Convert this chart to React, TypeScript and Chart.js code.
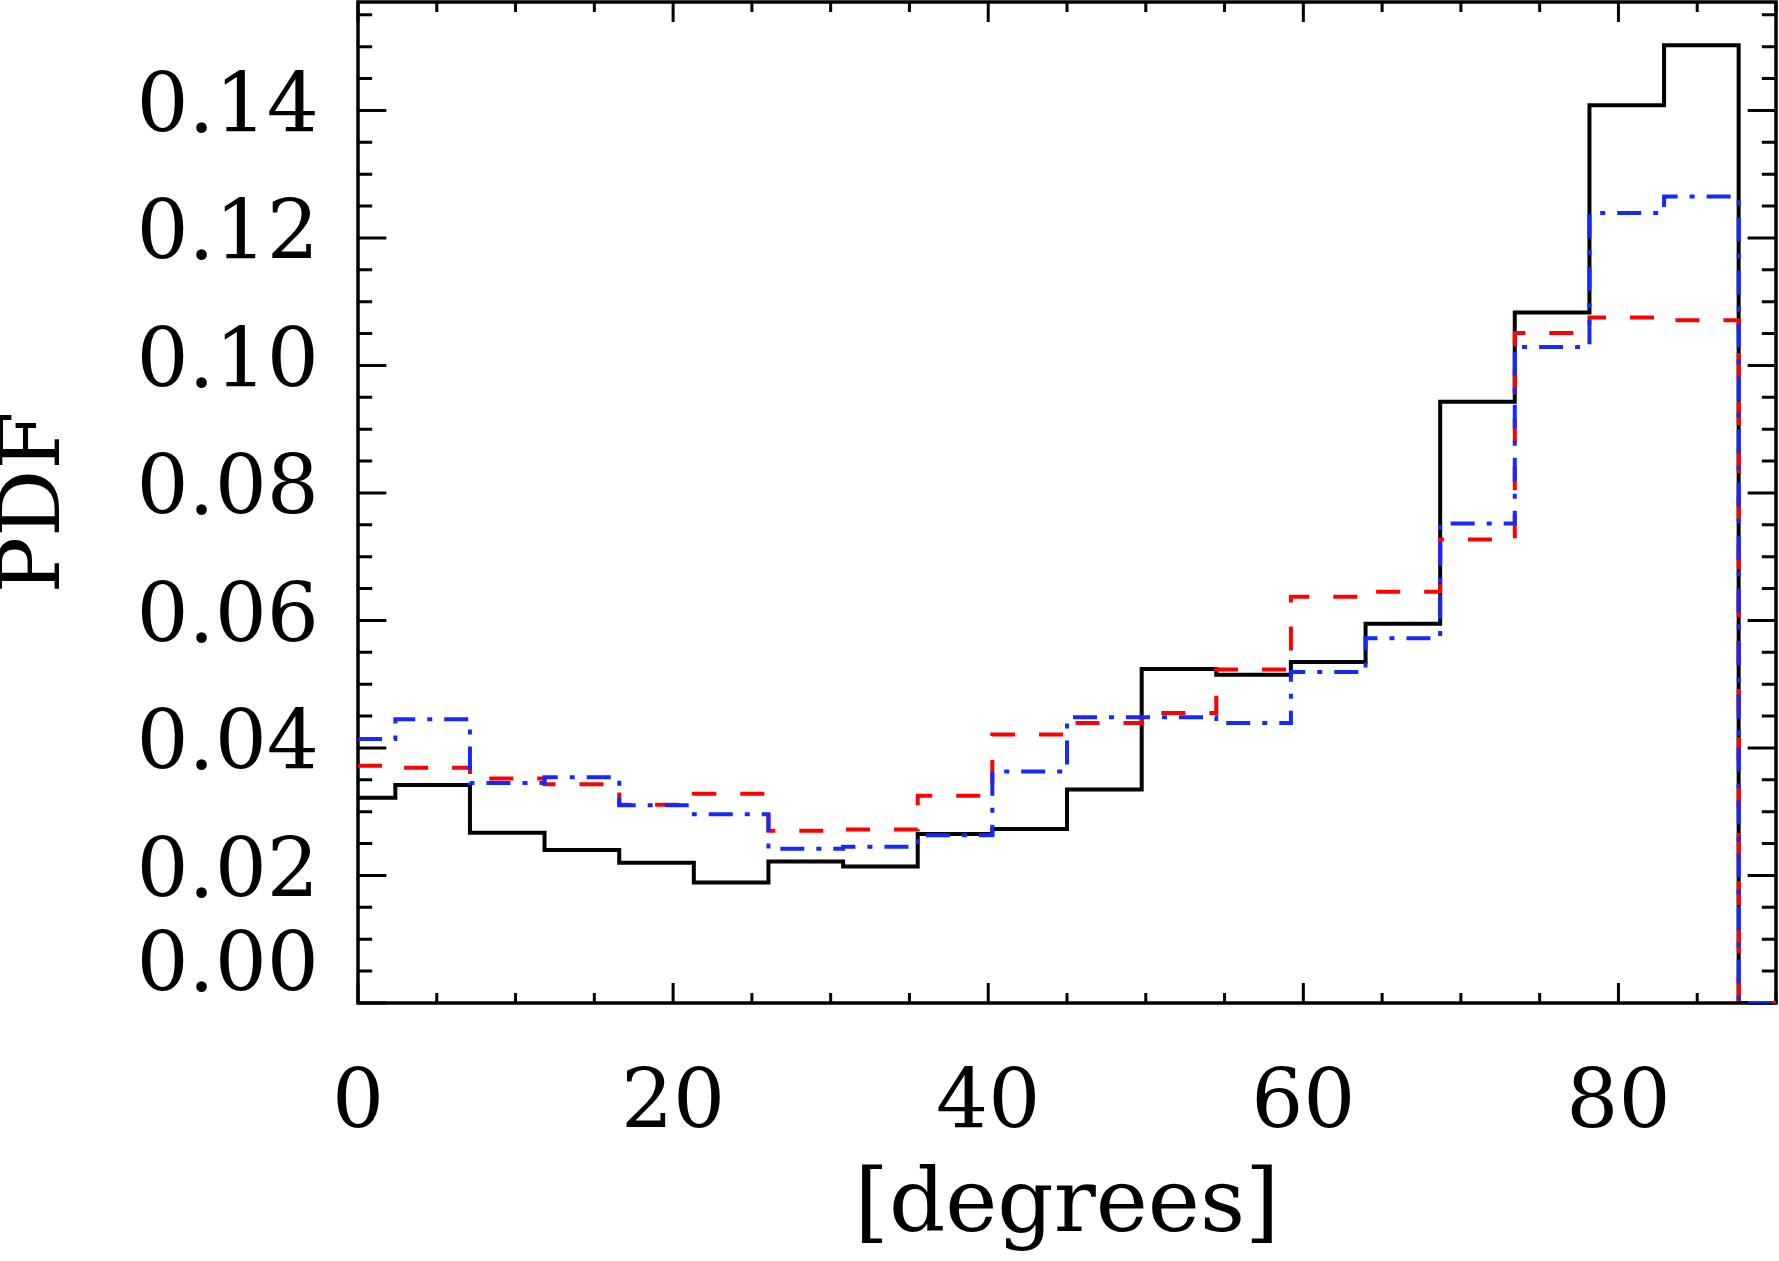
import React, { useEffect, useRef } from "react";
import { Chart, registerables } from "chart.js";

Chart.register(...registerables);

// ── Data ──────────────────────────────────────────────────────
// bin centres, degrees
const binCenters = [
  0, 4.74, 9.47, 14.21, 18.95, 23.68, 28.42, 33.16, 37.89, 42.63,
  47.37, 52.11, 56.84, 61.58, 66.32, 71.05, 75.79, 80.53, 85.26, 90,
];

// solid black
const pdfSolid = [
  0.0322, 0.0342, 0.0267, 0.0240, 0.0220, 0.0189, 0.0222, 0.0214, 0.0265, 0.0273,
  0.0335, 0.0524, 0.0515, 0.0535, 0.0595, 0.0943, 0.1083, 0.1408, 0.1502, 0,
];

// red dashed
const pdfDashed = [
  0.0372, 0.0369, 0.0352, 0.0343, 0.0311, 0.0328, 0.0270, 0.0272, 0.0325, 0.0421,
  0.0439, 0.0455, 0.0523, 0.0637, 0.0645, 0.0727, 0.1051, 0.1075, 0.1071, 0,
];

// blue dash-dot
const pdfDashDot = [
  0.0414, 0.0445, 0.0345, 0.0354, 0.0310, 0.0296, 0.0242, 0.0245, 0.0263, 0.0363,
  0.0448, 0.0448, 0.0439, 0.0519, 0.0572, 0.0752, 0.1029, 0.1239, 0.1265, 0,
];

const xTickValues = [0, 20, 40, 60, 80];
const yTickValues = [0, 0.02, 0.04, 0.06, 0.08, 0.1, 0.12, 0.14];
const xMinorStep = 5;
const yMinorStep = 0.005;
const xRange = [0, 90];
const yRange = [0, 0.157];

const FONT = "'DejaVu Serif', serif";

// ── IDL-style box with inward ticks on all four sides ────────
const framePlugin = {
  id: "frame",
  beforeDatasetsDraw(chart: any) {
    const { ctx, chartArea, scales } = chart;
    const { left, right, top, bottom } = chartArea;
    const xs = scales.x, ys = scales.y;
    const xLen = (bottom - top) * 0.02;
    const yLen = (right - left) * 0.02;

    ctx.save();
    ctx.strokeStyle = "#000";
    ctx.lineCap = "butt";

    ctx.lineWidth = 3;
    ctx.beginPath();
    const nx = Math.round((xRange[1] - xRange[0]) / xMinorStep);
    for (let i = 0; i <= nx; i++) {
      const v = xRange[0] + i * xMinorStep;
      const px = xs.getPixelForValue(v);
      const len = xTickValues.some((t) => Math.abs(t - v) < 1e-9) ? xLen : xLen / 2;
      ctx.moveTo(px, bottom);
      ctx.lineTo(px, bottom - len);
      ctx.moveTo(px, top);
      ctx.lineTo(px, top + len);
    }
    const ny = Math.floor((yRange[1] - yRange[0]) / yMinorStep + 1e-6);
    for (let i = 0; i <= ny; i++) {
      const v = yRange[0] + i * yMinorStep;
      const py = ys.getPixelForValue(v);
      const len = yTickValues.some((t) => Math.abs(t - v) < 1e-9) ? yLen : yLen / 2;
      ctx.moveTo(left, py);
      ctx.lineTo(left + len, py);
      ctx.moveTo(right, py);
      ctx.lineTo(right - len, py);
    }
    ctx.stroke();

    ctx.lineWidth = 3.5;
    ctx.strokeRect(left, top, right - left, bottom - top);
    ctx.restore();
  },
};

const toPoints = (vals: number[]) => binCenters.map((x, i) => ({ x, y: vals[i] }));

export default function App() {
  const canvasRef = useRef<HTMLCanvasElement>(null);

  useEffect(() => {
    if (!canvasRef.current) return;

    const chart = new Chart(canvasRef.current, {
      type: "line",
      data: {
        datasets: [
          {
            label: "solid",
            data: toPoints(pdfSolid),
            borderColor: "#000000",
            borderWidth: 4,
            stepped: "middle",
            pointRadius: 0,
            fill: false,
            order: 2,
          },
          {
            label: "dashed",
            data: toPoints(pdfDashed),
            borderColor: "#ff0000",
            borderWidth: 4,
            borderDash: [24, 24],
            stepped: "middle",
            pointRadius: 0,
            fill: false,
            order: 1,
          },
          {
            label: "dash-dot",
            data: toPoints(pdfDashDot),
            borderColor: "#1428ff",
            borderWidth: 4,
            borderDash: [24, 12, 5, 12],
            stepped: "middle",
            pointRadius: 0,
            fill: false,
            order: 0,
          },
        ],
      },
      options: {
        responsive: true,
        maintainAspectRatio: false,
        animation: false,
        layout: { padding: { top: 2, right: 3, bottom: 0, left: 0 } },
        plugins: {
          legend: { display: false },
          tooltip: { enabled: false },
        },
        scales: {
          x: {
            type: "linear",
            min: xRange[0],
            max: xRange[1],
            afterFit: (s: any) => {
              s.height = 258;
              s.paddingLeft = 0;
              s.paddingRight = 0;
            },
            afterBuildTicks: (s: any) => { s.ticks = xTickValues.map((v) => ({ value: v })); },
            grid: { display: false },
            border: { display: false },
            ticks: {
              color: "#000",
              font: { family: FONT, size: 82 },
              padding: 47,
              maxRotation: 0,
              autoSkip: false,
              callback: (v: any) => String(v),
            },
            title: {
              display: true,
              text: "[degrees]",
              color: "#000",
              font: { family: FONT, size: 88, lineHeight: 1.2 },
              padding: 0,
            },
          },
          y: {
            type: "linear",
            min: yRange[0],
            max: yRange[1],
            afterFit: (s: any) => {
              s.width = 358;
              s.paddingTop = 0;
              s.paddingBottom = 0;
            },
            afterBuildTicks: (s: any) => { s.ticks = yTickValues.map((v) => ({ value: v })); },
            grid: { display: false },
            border: { display: false },
            ticks: {
              color: "#000",
              font: { family: FONT, size: 82, lineHeight: 0.8 },
              padding: 31,
              autoSkip: false,
              // the 0.00 label sits above the x axis, as in the original
              callback: (v: any) => (Number(v) === 0 ? ["0.00", ""] : Number(v).toFixed(2)),
            },
            title: {
              display: true,
              text: "PDF",
              color: "#000",
              font: { family: FONT, size: 84, lineHeight: 0.74 },
              padding: { top: 6, bottom: 0 },
            },
          },
        },
      },
      plugins: [framePlugin],
    });

    return () => chart.destroy();
  }, []);

  return (
    <div
      style={{
        position: "fixed",
        left: 0,
        top: 0,
        width: 1779,
        height: 1261,
        background: "#ffffff",
      }}
    >
      <canvas ref={canvasRef} />
    </div>
  );
}
